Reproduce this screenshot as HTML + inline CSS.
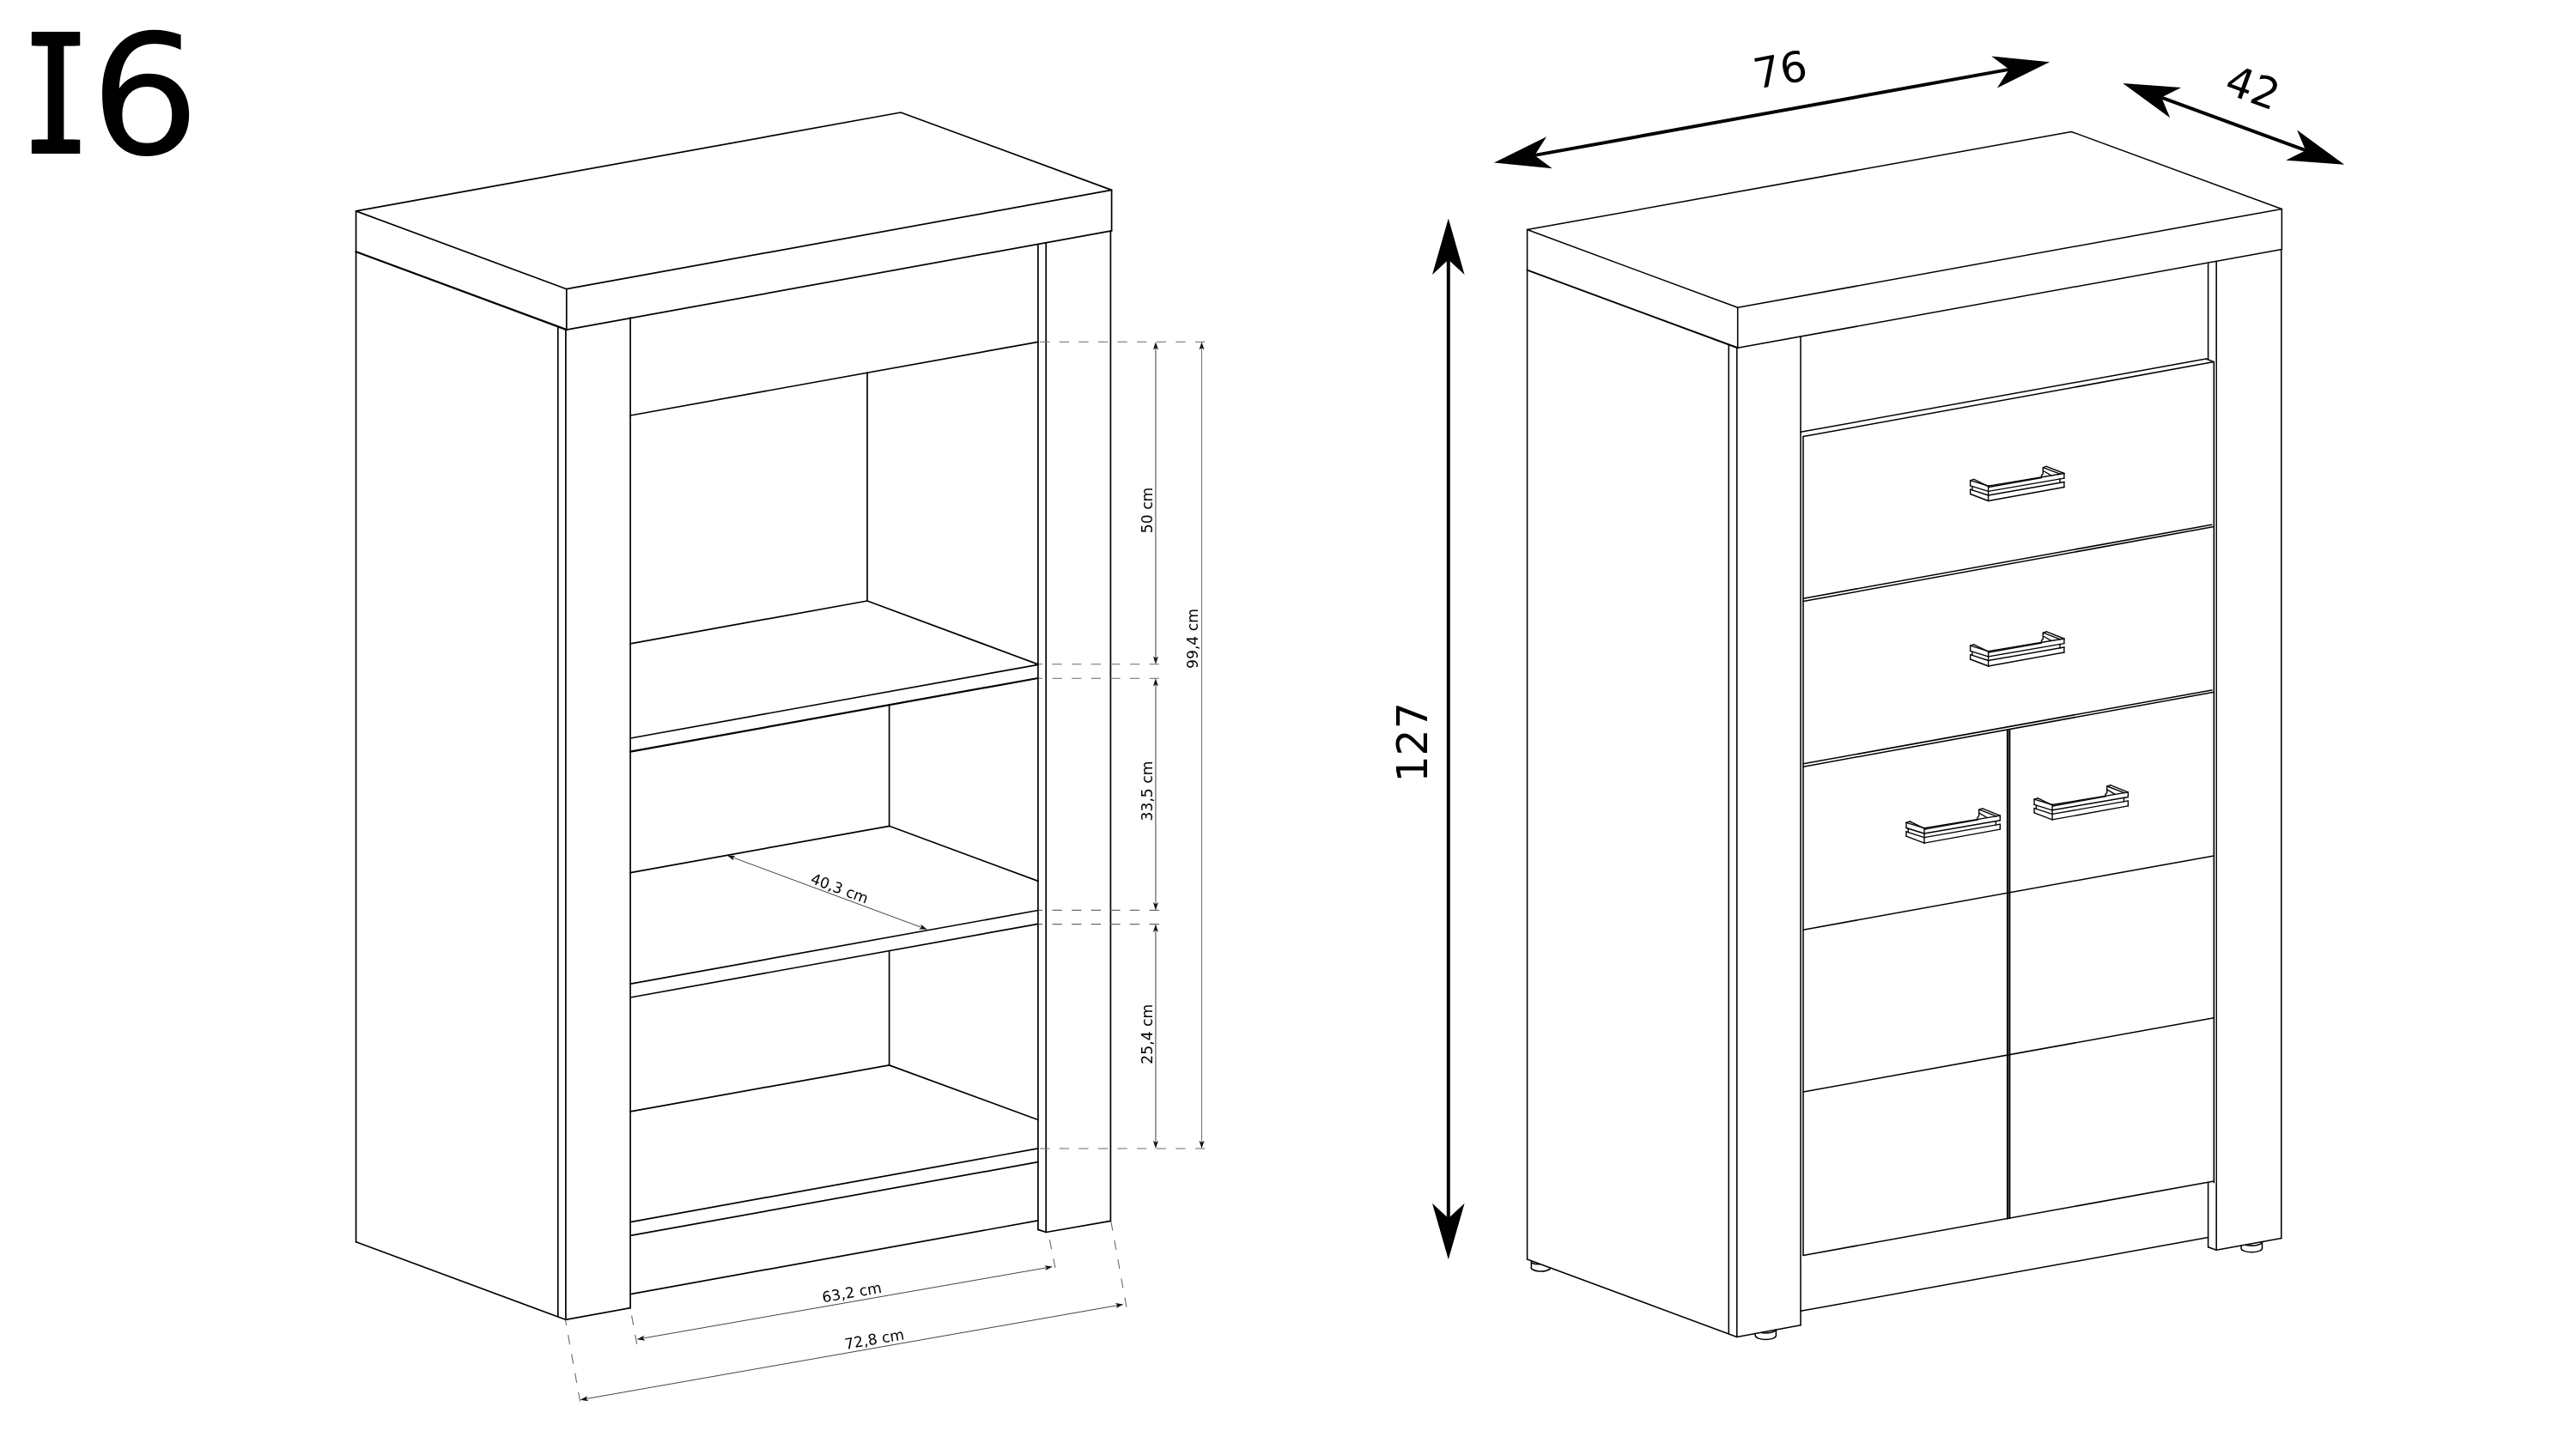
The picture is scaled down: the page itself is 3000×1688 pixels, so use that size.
<!DOCTYPE html>
<html><head><meta charset="utf-8"><title>I6</title>
<style>
html,body{margin:0;padding:0;background:#fff}
body{width:3000px;height:1688px;position:relative;overflow:hidden;font-family:"DejaVu Sans","Liberation Sans",sans-serif}
svg{position:absolute;left:0;top:0;display:block;will-change:transform;opacity:0.999}
.kl{stroke:#000;stroke-width:1.7;fill:none;stroke-linecap:round;stroke-linejoin:round}
.kt{stroke:#000;stroke-width:2.2;fill:none;stroke-linecap:round}
.kt2{stroke:#000;stroke-width:2.0;fill:none;stroke-linecap:round}
.k{stroke:#000;stroke-width:1.55;fill:none;stroke-linecap:round;stroke-linejoin:round}
.h{stroke:#000;stroke-width:1.4;fill:none;stroke-linecap:round;stroke-linejoin:round}
.d{stroke:#444;stroke-width:1;fill:none}
.dv{stroke:#5a5a5a;stroke-width:1.15;fill:none}
.dw{stroke:#777;stroke-width:1.1;fill:none}
.dd{stroke:#6a6a6a;stroke-width:1.1;fill:none;stroke-dasharray:11.3 11.3}
.df{fill:#111;stroke:none}
.af{fill:#000;stroke:none}
.t{font-family:"DejaVu Sans","Liberation Sans",sans-serif;fill:#000}
.T{font-family:"DejaVu Sans","Liberation Sans",sans-serif;fill:#000}
.title{position:absolute;left:0;top:0;margin:0;font-weight:400;font-size:195px;line-height:1;color:#000;white-space:nowrap}
.title .i{position:absolute;left:28.3px;top:14.4px;font-family:"DejaVu Sans Mono","Liberation Mono",monospace;transform-origin:0 0;transform:scaleX(0.632);text-shadow:5.2px 0 0 #000,-5.2px 0 0 #000}
.title .n{position:absolute;left:104.6px;top:13.7px;font-family:"DejaVu Sans","Liberation Sans",sans-serif;transform-origin:0 0;transform:scaleX(1.03)}
</style></head><body>
<svg width="3000" height="1688" viewBox="0 0 3000 1688">
<path class="kl" d="M414.6 245.9 L1049.0 131.0 L1294.6 221.4 L659.8 336.7 Z"/>
<line class="kl" x1="414.6" y1="245.9" x2="414.6" y2="293.3"/>
<line class="kl" x1="659.8" y1="336.7" x2="659.8" y2="384.1"/>
<line class="kl" x1="1294.6" y1="221.4" x2="1294.6" y2="268.8"/>
<line class="kt" x1="414.6" y1="293.3" x2="659.8" y2="384.1"/>
<line class="kl" x1="659.8" y1="384.1" x2="1294.6" y2="268.8"/>
<line class="kl" x1="414.6" y1="293.3" x2="414.6" y2="1446.8"/>
<line class="kl" x1="649.8" y1="380.6" x2="649.8" y2="1534.0"/>
<line class="kl" x1="658.9" y1="383.9" x2="658.9" y2="1537.3"/>
<path class="kl" d="M414.6 1446.8 L658.7 1537.3 L734.1 1523.7"/>
<line class="kl" x1="734.1" y1="370.0" x2="734.1" y2="1523.7"/>
<line class="kl" x1="1208.9" y1="284.5" x2="1208.9" y2="1432.4"/>
<line class="kl" x1="1218.2" y1="282.8" x2="1218.2" y2="1435.5"/>
<line class="kl" x1="1293.4" y1="268.8" x2="1293.4" y2="1422.3"/>
<path class="kl" d="M1208.9 1432.4 L1218.2 1435.5 L1293.4 1422.3"/>
<line class="kl" x1="734.1" y1="484.0" x2="1208.9" y2="398.3"/>
<line class="kl" x1="1010.0" y1="434.2" x2="1010.0" y2="700.0"/>
<path class="kl" d="M734.1 749.8 L1010.0 700.0 L1208.9 773.9"/>
<line class="kl" x1="734.1" y1="860.0" x2="1208.9" y2="774.3"/>
<line class="kt" x1="734.1" y1="875.7" x2="1208.9" y2="790.0"/>
<line class="kl" x1="1035.6" y1="820.8" x2="1035.6" y2="962.3"/>
<path class="kl" d="M734.1 1016.7 L1035.6 962.3 L1208.9 1026.4"/>
<line class="kl" x1="734.1" y1="1146.2" x2="1208.9" y2="1060.5"/>
<line class="kl" x1="734.1" y1="1162.0" x2="1208.9" y2="1076.3"/>
<line class="kl" x1="1035.6" y1="1107.6" x2="1035.6" y2="1240.9"/>
<path class="kl" d="M734.1 1294.8 L1035.6 1240.9 L1208.9 1304.5"/>
<line class="kl" x1="734.1" y1="1423.6" x2="1208.9" y2="1337.9"/>
<line class="kl" x1="734.1" y1="1439.4" x2="1208.9" y2="1353.7"/>
<line class="kl" x1="734.1" y1="1507.6" x2="1208.9" y2="1421.9"/>
<line class="dd" x1="1211.1" y1="398.2" x2="1403.2" y2="398.2" stroke-dashoffset="0"/>
<line class="dd" x1="1209.6" y1="773.8" x2="1349.8" y2="773.8" stroke-dashoffset="6.7"/>
<line class="dd" x1="1209.6" y1="790.3" x2="1349.8" y2="790.3" stroke-dashoffset="6.7"/>
<line class="dd" x1="1209.6" y1="1060.4" x2="1349.8" y2="1060.4" stroke-dashoffset="6.7"/>
<line class="dd" x1="1209.6" y1="1076.6" x2="1349.8" y2="1076.6" stroke-dashoffset="6.7"/>
<line class="dd" x1="1211.1" y1="1338.0" x2="1403.2" y2="1338.0" stroke-dashoffset="0"/>
<line class="dv" x1="1345.9" y1="403.8" x2="1345.9" y2="768.2"/>
<path class="df" d="M1345.90 773.80 L1342.90 764.50 L1345.90 766.80 L1348.90 764.50 Z"/>
<path class="df" d="M1345.90 398.20 L1348.90 407.50 L1345.90 405.20 L1342.90 407.50 Z"/>
<line class="dv" x1="1345.9" y1="795.9" x2="1345.9" y2="1054.8"/>
<path class="df" d="M1345.90 1060.40 L1342.90 1051.10 L1345.90 1053.40 L1348.90 1051.10 Z"/>
<path class="df" d="M1345.90 790.30 L1348.90 799.60 L1345.90 797.30 L1342.90 799.60 Z"/>
<line class="dv" x1="1345.9" y1="1082.2" x2="1345.9" y2="1332.4"/>
<path class="df" d="M1345.90 1338.00 L1342.90 1328.70 L1345.90 1331.00 L1348.90 1328.70 Z"/>
<path class="df" d="M1345.90 1076.60 L1348.90 1085.90 L1345.90 1083.60 L1342.90 1085.90 Z"/>
<line class="dw" x1="1399.5" y1="403.8" x2="1399.5" y2="1332.4"/>
<path class="df" d="M1399.50 1338.00 L1396.50 1328.70 L1399.50 1331.00 L1402.50 1328.70 Z"/>
<path class="df" d="M1399.50 398.20 L1402.50 407.50 L1399.50 405.20 L1396.50 407.50 Z"/>
<text class="t" font-size="17.2" transform="translate(1341.5 594.4) rotate(-90.00)" text-anchor="middle">50 cm</text>
<text class="t" font-size="17.2" transform="translate(1341.5 921.5) rotate(-90.00)" text-anchor="middle">33,5 cm</text>
<text class="t" font-size="17.2" transform="translate(1341.5 1204.7) rotate(-90.00)" text-anchor="middle">25,4 cm</text>
<text class="t" font-size="17.2" transform="translate(1394.7 744.0) rotate(-90.00)" text-anchor="middle">99,4 cm</text>
<line class="d" x1="852.1" y1="998.4" x2="1074.6" y2="1080.9"/>
<path class="df" d="M1079.90 1082.80 L1070.14 1082.38 L1073.34 1080.37 L1072.22 1076.76 Z"/>
<path class="df" d="M846.80 996.50 L856.56 996.92 L853.36 998.93 L854.48 1002.54 Z"/>
<text class="t" font-size="17.2" transform="translate(975.7 1040.6) rotate(20.30)" text-anchor="middle">40,3 cm</text>
<line class="d" x1="747.2" y1="1559.3" x2="1220.5" y2="1476.5"/>
<path class="df" d="M1226.00 1475.50 L1217.36 1480.06 L1219.10 1476.71 L1216.32 1474.15 Z"/>
<path class="df" d="M741.70 1560.30 L750.34 1555.74 L748.60 1559.09 L751.38 1561.65 Z"/>
<text class="t" font-size="17.2" transform="translate(993.0 1511.5) rotate(-9.85)" text-anchor="middle">63,2 cm</text>
<line class="d" x1="681.1" y1="1629.8" x2="1302.9" y2="1520.4"/>
<path class="df" d="M1308.40 1519.40 L1299.76 1523.97 L1301.51 1520.61 L1298.72 1518.06 Z"/>
<path class="df" d="M675.60 1630.80 L684.24 1626.23 L682.49 1629.59 L685.28 1632.14 Z"/>
<text class="t" font-size="17.2" transform="translate(1019.3 1566.0) rotate(-9.85)" text-anchor="middle">72,8 cm</text>
<line class="dd" x1="658.4" y1="1537.5" x2="675.6" y2="1632.7" stroke-dashoffset="4.6"/>
<line class="dd" x1="735.6" y1="1532.6" x2="741.7" y2="1565.8" stroke-dashoffset="0"/>
<line class="dd" x1="1222.4" y1="1444.1" x2="1228.9" y2="1476.9" stroke-dashoffset="0"/>
<line class="dd" x1="1293.8" y1="1422.6" x2="1311.9" y2="1522.7" stroke-dashoffset="0"/>
<path class="k" d="M1778.6 267.6 L2412.2 153.4 L2657.4 243.4 L2023.7 358.3 Z"/>
<line class="k" x1="1778.6" y1="267.6" x2="1778.6" y2="314.6"/>
<line class="k" x1="2023.7" y1="358.3" x2="2023.7" y2="405.3"/>
<line class="k" x1="2657.4" y1="243.4" x2="2657.4" y2="290.4"/>
<line class="kt2" x1="1778.6" y1="314.6" x2="2023.7" y2="405.3"/>
<line class="k" x1="2023.7" y1="405.3" x2="2657.4" y2="290.4"/>
<line class="k" x1="1778.6" y1="315.0" x2="1778.6" y2="1467.1"/>
<line class="k" x1="2013.3" y1="401.5" x2="2013.3" y2="1553.6"/>
<line class="k" x1="2022.8" y1="405.0" x2="2022.8" y2="1557.4"/>
<path class="k" d="M1778.6 1467.1 L2022.8 1557.4 L2097.0 1543.7"/>
<line class="k" x1="2097.0" y1="392.0" x2="2097.0" y2="1543.7"/>
<line class="k" x1="2571.6" y1="307.0" x2="2571.6" y2="418.9"/>
<line class="k" x1="2571.6" y1="1378.6" x2="2571.6" y2="1452.8"/>
<line class="k" x1="2581.2" y1="305.2" x2="2581.2" y2="1456.2"/>
<line class="k" x1="2656.8" y1="291.5" x2="2656.8" y2="1442.6"/>
<path class="k" d="M2571.6 1452.8 L2581.2 1456.2 L2656.8 1442.6"/>
<line class="k" x1="2097.0" y1="503.3" x2="2569.2" y2="418.0"/>
<line class="k" x1="2100.0" y1="508.6" x2="2578.3" y2="421.6"/>
<line class="k" x1="2569.2" y1="418.0" x2="2578.3" y2="421.6"/>
<line class="k" x1="2100.0" y1="508.6" x2="2100.0" y2="1462.4"/>
<rect x="2579.1" y="423" width="1.3" height="954" fill="#ddd"/>
<line class="k" x1="2578.3" y1="421.6" x2="2578.3" y2="1377.8"/>
<line class="k" x1="2100.0" y1="697.2" x2="2575.8" y2="611.3"/>
<line class="k" x1="2100.0" y1="700.6" x2="2578.3" y2="613.6"/>
<line class="k" x1="2100.0" y1="889.8" x2="2575.8" y2="803.9"/>
<line class="k" x1="2100.0" y1="893.2" x2="2578.3" y2="806.2"/>
<rect x="2337.7" y="850.6" width="2.9" height="569" fill="#555"/>
<line class="k" x1="2337.7" y1="850.6" x2="2337.7" y2="1420.0"/>
<line class="k" x1="2340.6" y1="850.1" x2="2340.6" y2="1419.5"/>
<line class="k" x1="2100.0" y1="1083.2" x2="2578.3" y2="996.9"/>
<line class="k" x1="2100.0" y1="1272.0" x2="2578.3" y2="1185.7"/>
<line class="k" x1="2100.0" y1="1462.4" x2="2578.3" y2="1376.1"/>
<line class="k" x1="2097.0" y1="1527.3" x2="2571.6" y2="1441.6"/>
<path class="k" d="M2044.2 1553.4 L2044.2 1555.8 A12.1 4.7 0 0 0 2068.4 1555.8 L2068.4 1549.0"/>
<path class="k" d="M2051.4 1552.5 L2052.0 1552.6 L2052.6 1552.7 L2053.2 1552.7 L2053.8 1552.8 L2054.4 1552.8 L2055.0 1552.9 L2055.7 1552.9 L2056.3 1552.9 L2056.9 1552.9 L2057.6 1552.9 L2058.2 1552.8 L2058.8 1552.8 L2059.4 1552.7 L2060.0 1552.7 L2060.6 1552.6 L2061.2 1552.5 L2061.8 1552.4 L2062.4 1552.3 L2062.9 1552.1 L2063.4 1552.0 L2063.9 1551.9 L2064.4 1551.7 L2064.9 1551.5 L2065.3 1551.3 L2065.7 1551.2 L2066.1 1551.0 L2066.4 1550.8 L2066.8 1550.5 L2067.1 1550.3 L2067.4 1550.1 L2067.6 1549.9 L2067.8 1549.7 L2068.0 1549.4"/>
<path class="k" d="M2610.1 1451.0 L2610.1 1454.2 A12.2 4.5 0 0 0 2634.5 1454.2 L2634.5 1446.6"/>
<path class="k" d="M2615.7 1450.4 L2616.2 1450.5 L2616.8 1450.6 L2617.3 1450.7 L2617.9 1450.8 L2618.5 1450.9 L2619.1 1450.9 L2619.8 1451.0 L2620.4 1451.0 L2621.0 1451.1 L2621.7 1451.1 L2622.3 1451.1 L2622.9 1451.1 L2623.6 1451.1 L2624.2 1451.0 L2624.8 1451.0 L2625.5 1450.9 L2626.1 1450.9 L2626.7 1450.8 L2627.3 1450.7 L2627.8 1450.6 L2628.4 1450.5 L2628.9 1450.4 L2629.5 1450.2 L2630.0 1450.1 L2630.5 1449.9 L2630.9 1449.8 L2631.4 1449.6 L2631.8 1449.4 L2632.2 1449.2 L2632.5 1449.1 L2632.9 1448.9 L2633.2 1448.6 L2633.4 1448.4 L2633.7 1448.2 L2633.9 1448.0 L2634.1 1447.8 L2634.2 1447.5 L2634.3 1447.3 L2634.4 1447.1 L2634.5 1446.8"/>
<path class="k" d="M1783.4 1469.2 L1783.4 1476.0 A11 4.3 0 0 0 1805.6 1477.4"/>
<path class="k" d="M1784 1471.2 A10 3.6 0 0 0 1793.5 1472.8"/>
<line class="h" x1="2315.6" y1="583.5" x2="2315.6" y2="566.1"/>
<line class="h" x1="2315.6" y1="583.5" x2="2403.9" y2="567.5"/>
<line class="h" x1="2315.6" y1="577.0" x2="2403.9" y2="561.5"/>
<line class="h" x1="2315.6" y1="572.4" x2="2403.9" y2="557.1"/>
<line class="h" x1="2315.6" y1="566.1" x2="2403.9" y2="551.5"/>
<line class="h" x1="2403.9" y1="567.5" x2="2403.9" y2="561.5"/>
<line class="h" x1="2403.9" y1="557.1" x2="2403.9" y2="551.5"/>
<line class="h" x1="2399.0" y1="562.4" x2="2399.0" y2="558.0"/>
<line class="h" x1="2315.6" y1="583.5" x2="2294.6" y2="575.5"/>
<line class="h" x1="2315.6" y1="577.0" x2="2294.6" y2="570.2"/>
<line class="h" x1="2315.6" y1="572.4" x2="2294.6" y2="565.9"/>
<line class="h" x1="2315.6" y1="566.1" x2="2294.6" y2="559.7"/>
<line class="h" x1="2294.6" y1="575.5" x2="2294.6" y2="570.2"/>
<line class="h" x1="2294.6" y1="565.9" x2="2294.6" y2="559.7"/>
<line class="h" x1="2296.9" y1="570.9" x2="2296.9" y2="566.6"/>
<line class="h" x1="2294.6" y1="559.7" x2="2298.8" y2="558.4"/>
<line class="h" x1="2298.8" y1="558.4" x2="2317.1" y2="567.3"/>
<line class="h" x1="2317.1" y1="567.3" x2="2377.6" y2="556.5"/>
<line class="h" x1="2403.9" y1="551.5" x2="2383.3" y2="543.3"/>
<line class="h" x1="2383.3" y1="543.3" x2="2379.5" y2="544.6"/>
<line class="h" x1="2379.5" y1="544.6" x2="2399.6" y2="552.3"/>
<path class="h" d="M2379.3 544.6 L2379.3 551.8 L2377.4 554.0 L2377.8 555.6"/>
<line class="h" x1="2379.5" y1="548.5" x2="2388.8" y2="553.9"/>
<line class="h" x1="2315.6" y1="776.0" x2="2315.6" y2="758.6"/>
<line class="h" x1="2315.6" y1="776.0" x2="2403.9" y2="760.0"/>
<line class="h" x1="2315.6" y1="769.5" x2="2403.9" y2="754.0"/>
<line class="h" x1="2315.6" y1="764.9" x2="2403.9" y2="749.6"/>
<line class="h" x1="2315.6" y1="758.6" x2="2403.9" y2="744.0"/>
<line class="h" x1="2403.9" y1="760.0" x2="2403.9" y2="754.0"/>
<line class="h" x1="2403.9" y1="749.6" x2="2403.9" y2="744.0"/>
<line class="h" x1="2399.0" y1="754.9" x2="2399.0" y2="750.5"/>
<line class="h" x1="2315.6" y1="776.0" x2="2294.6" y2="768.0"/>
<line class="h" x1="2315.6" y1="769.5" x2="2294.6" y2="762.7"/>
<line class="h" x1="2315.6" y1="764.9" x2="2294.6" y2="758.4"/>
<line class="h" x1="2315.6" y1="758.6" x2="2294.6" y2="752.2"/>
<line class="h" x1="2294.6" y1="768.0" x2="2294.6" y2="762.7"/>
<line class="h" x1="2294.6" y1="758.4" x2="2294.6" y2="752.2"/>
<line class="h" x1="2296.9" y1="763.4" x2="2296.9" y2="759.1"/>
<line class="h" x1="2294.6" y1="752.2" x2="2298.8" y2="750.9"/>
<line class="h" x1="2298.8" y1="750.9" x2="2317.1" y2="759.8"/>
<line class="h" x1="2317.1" y1="759.8" x2="2377.6" y2="749.0"/>
<line class="h" x1="2403.9" y1="744.0" x2="2383.3" y2="735.8"/>
<line class="h" x1="2383.3" y1="735.8" x2="2379.5" y2="737.1"/>
<line class="h" x1="2379.5" y1="737.1" x2="2399.6" y2="744.8"/>
<path class="h" d="M2379.3 737.1 L2379.3 744.3 L2377.4 746.5 L2377.8 748.1"/>
<line class="h" x1="2379.5" y1="741.0" x2="2388.8" y2="746.4"/>
<line class="h" x1="2241.0" y1="982.1" x2="2241.0" y2="964.7"/>
<line class="h" x1="2241.0" y1="982.1" x2="2329.3" y2="966.1"/>
<line class="h" x1="2241.0" y1="975.6" x2="2329.3" y2="960.1"/>
<line class="h" x1="2241.0" y1="971.0" x2="2329.3" y2="955.7"/>
<line class="h" x1="2241.0" y1="964.7" x2="2329.3" y2="950.1"/>
<line class="h" x1="2329.3" y1="966.1" x2="2329.3" y2="960.1"/>
<line class="h" x1="2329.3" y1="955.7" x2="2329.3" y2="950.1"/>
<line class="h" x1="2324.4" y1="961.0" x2="2324.4" y2="956.6"/>
<line class="h" x1="2241.0" y1="982.1" x2="2220.0" y2="974.1"/>
<line class="h" x1="2241.0" y1="975.6" x2="2220.0" y2="968.8"/>
<line class="h" x1="2241.0" y1="971.0" x2="2220.0" y2="964.5"/>
<line class="h" x1="2241.0" y1="964.7" x2="2220.0" y2="958.3"/>
<line class="h" x1="2220.0" y1="974.1" x2="2220.0" y2="968.8"/>
<line class="h" x1="2220.0" y1="964.5" x2="2220.0" y2="958.3"/>
<line class="h" x1="2222.3" y1="969.5" x2="2222.3" y2="965.2"/>
<line class="h" x1="2220.0" y1="958.3" x2="2224.2" y2="957.0"/>
<line class="h" x1="2224.2" y1="957.0" x2="2242.5" y2="965.9"/>
<line class="h" x1="2242.5" y1="965.9" x2="2303.0" y2="955.1"/>
<line class="h" x1="2329.3" y1="950.1" x2="2308.7" y2="941.9"/>
<line class="h" x1="2308.7" y1="941.9" x2="2304.9" y2="943.2"/>
<line class="h" x1="2304.9" y1="943.2" x2="2325.0" y2="950.9"/>
<path class="h" d="M2304.7 943.2 L2304.7 950.4 L2302.8 952.6 L2303.2 954.2"/>
<line class="h" x1="2304.9" y1="947.1" x2="2314.2" y2="952.5"/>
<line class="h" x1="2390.1" y1="954.9" x2="2390.1" y2="937.5"/>
<line class="h" x1="2390.1" y1="954.9" x2="2478.4" y2="938.9"/>
<line class="h" x1="2390.1" y1="948.4" x2="2478.4" y2="932.9"/>
<line class="h" x1="2390.1" y1="943.8" x2="2478.4" y2="928.5"/>
<line class="h" x1="2390.1" y1="937.5" x2="2478.4" y2="922.9"/>
<line class="h" x1="2478.4" y1="938.9" x2="2478.4" y2="932.9"/>
<line class="h" x1="2478.4" y1="928.5" x2="2478.4" y2="922.9"/>
<line class="h" x1="2473.5" y1="933.8" x2="2473.5" y2="929.4"/>
<line class="h" x1="2390.1" y1="954.9" x2="2369.1" y2="946.9"/>
<line class="h" x1="2390.1" y1="948.4" x2="2369.1" y2="941.6"/>
<line class="h" x1="2390.1" y1="943.8" x2="2369.1" y2="937.3"/>
<line class="h" x1="2390.1" y1="937.5" x2="2369.1" y2="931.1"/>
<line class="h" x1="2369.1" y1="946.9" x2="2369.1" y2="941.6"/>
<line class="h" x1="2369.1" y1="937.3" x2="2369.1" y2="931.1"/>
<line class="h" x1="2371.4" y1="942.3" x2="2371.4" y2="938.0"/>
<line class="h" x1="2369.1" y1="931.1" x2="2373.3" y2="929.8"/>
<line class="h" x1="2373.3" y1="929.8" x2="2391.6" y2="938.7"/>
<line class="h" x1="2391.6" y1="938.7" x2="2452.1" y2="927.9"/>
<line class="h" x1="2478.4" y1="922.9" x2="2457.8" y2="914.7"/>
<line class="h" x1="2457.8" y1="914.7" x2="2454.0" y2="916.0"/>
<line class="h" x1="2454.0" y1="916.0" x2="2474.1" y2="923.7"/>
<path class="h" d="M2453.8 916.0 L2453.8 923.2 L2451.9 925.4 L2452.3 927.0"/>
<line class="h" x1="2454.0" y1="919.9" x2="2463.3" y2="925.3"/>
<line x1="1787.2" y1="180.9" x2="2339.8" y2="80.9" stroke="#000" stroke-width="4.0"/>
<path class="af" d="M2387.00 72.30 L2325.90 102.47 L2339.77 80.86 L2319.20 65.48 Z"/>
<path class="af" d="M1740.00 189.50 L1801.10 159.33 L1787.23 180.94 L1807.80 196.32 Z"/>
<line x1="2517.3" y1="113.6" x2="2685.1" y2="175.2" stroke="#000" stroke-width="4.0"/>
<path class="af" d="M2730.20 191.70 L2662.23 186.80 L2685.13 175.18 L2675.18 151.50 Z"/>
<path class="af" d="M2472.20 97.10 L2540.17 102.00 L2517.27 113.62 L2527.22 137.30 Z"/>
<line x1="1686.8" y1="302.5" x2="1686.8" y2="1419.3" stroke="#000" stroke-width="4.0"/>
<path class="af" d="M1686.80 1467.30 L1668.00 1401.80 L1686.80 1419.30 L1705.60 1401.80 Z"/>
<path class="af" d="M1686.80 254.50 L1705.60 320.00 L1686.80 302.50 L1668.00 320.00 Z"/>
<text class="T" font-size="49" transform="translate(2076.3 98.3) rotate(-10.20)" text-anchor="middle">76</text>
<text class="T" font-size="49" transform="translate(2617.7 118.2) rotate(20.10)" text-anchor="middle">42</text>
<text class="T" font-size="49" transform="translate(1662.1 864.8) rotate(-90.00)" text-anchor="middle">127</text>
</svg>
<h1 class="title"><span class="i" id="ti">I</span><span class="n" id="tn">6</span></h1>
</body></html>
